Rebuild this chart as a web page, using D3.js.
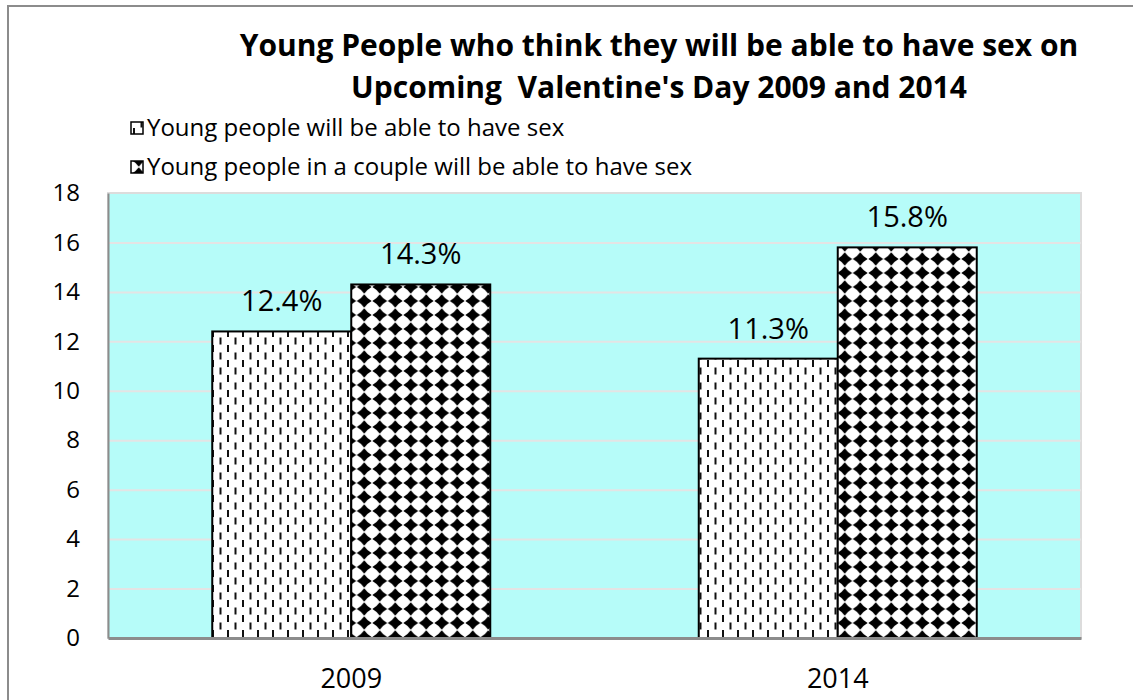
<!DOCTYPE html>
<html>
<head>
<meta charset="utf-8">
<script src="https://cdn.jsdelivr.net/npm/d3@7"></script>
<style>
  body { margin: 0; background: #fff; }
</style>
</head>
<body>
<div id="chart"></div>
<script>

var width = 1133;
var height = 700;

// data
var years = ['2009', '2014'];
var seriesNames = ['Young people will be able to have sex', 'Young people in a couple will be able to have sex'];
var seriesAll = [12.4, 11.3];
var seriesCouple = [14.3, 15.8];
var yTicks = [0, 2, 4, 6, 8, 10, 12, 14, 16, 18];
var titleLines = ['Young People who think they will be able to have sex on', 'Upcoming  Valentine\'s Day 2009 and 2014'];

var plotLeft = 108;
var plotRight = 1081;
var plotTop = 193;
var plotBottom = 638;
var font = '"Open Sans", Lato, sans-serif';

var svg = d3.select('#chart')
  .append('svg')
  .attr('width', width)
  .attr('height', height)
  .style('background-color', '#fff');

var defs = svg.append('defs');

// dashes pattern
var pDash = defs.append('pattern')
  .attr('id', 'dash')
  .attr('patternUnits', 'userSpaceOnUse')
  .attr('width', 15)
  .attr('height', 15);
pDash.append('rect').attr('width', 15).attr('height', 15).attr('fill', '#fff');
pDash.append('rect').attr('x', 2).attr('y', 0).attr('width', 2).attr('height', 7).attr('fill', '#111');
pDash.append('rect').attr('x', 9.5).attr('y', 7.5).attr('width', 2).attr('height', 7).attr('fill', '#111');

// diamond pattern: one diamond per cell, square grid, tips almost touching
var pw = 15.5, ph = 14, dx = 7.4, dy = 6.7, k = 0.38;
var pDia = defs.append('pattern')
  .attr('id', 'diamond')
  .attr('patternUnits', 'userSpaceOnUse')
  .attr('width', pw)
  .attr('height', ph);
pDia.append('rect').attr('width', pw).attr('height', ph).attr('fill', '#fff');
var cx = pw / 2, cy = ph / 2;
pDia.append('path')
  .attr('d', 'M' + (cx - dx) + ',' + cy +
    'Q' + (cx - dx * k) + ',' + (cy - dy * k) + ' ' + cx + ',' + (cy - dy) +
    'Q' + (cx + dx * k) + ',' + (cy - dy * k) + ' ' + (cx + dx) + ',' + cy +
    'Q' + (cx + dx * k) + ',' + (cy + dy * k) + ' ' + cx + ',' + (cy + dy) +
    'Q' + (cx - dx * k) + ',' + (cy + dy * k) + ' ' + (cx - dx) + ',' + cy + 'Z')
  .attr('fill', '#000');

// outer frame
svg.append('rect')
  .attr('x', 8).attr('y', 6)
  .attr('width', 1200).attr('height', 800)
  .attr('fill', 'none')
  .attr('stroke', '#8c8c8c')
  .attr('stroke-width', 2);

var x0 = d3.scaleBand()
  .domain(years)
  .range([plotLeft, plotRight]);

var x1 = d3.scaleBand()
  .domain([0, 1])
  .range([0, x0.bandwidth()])
  .paddingOuter(0.75)
  .paddingInner(0);

var y = d3.scaleLinear()
  .domain([0, 18])
  .range([plotBottom, plotTop]);

// plot background
svg.append('rect')
  .attr('x', plotLeft).attr('y', plotTop)
  .attr('width', plotRight - plotLeft).attr('height', plotBottom - plotTop)
  .attr('fill', '#b6fcf9')
  .attr('stroke', '#dcdcdc')
  .attr('stroke-width', 2);

// grid
svg.append('g')
  .attr('class', 'grid')
  .attr('transform', 'translate(' + plotLeft + ',0)')
  .call(d3.axisLeft(y).tickValues(yTicks.slice(1, -1)).tickSize(-(plotRight - plotLeft)).tickFormat(''))
  .call(function(g) { g.select('.domain').remove(); })
  .selectAll('line')
  .attr('stroke', '#e4e4e4')
  .attr('stroke-width', 2);

// bars
var seriesList = [seriesAll, seriesCouple];
var fills = ['url(#dash)', 'url(#diamond)'];

seriesList.forEach(function(vals, si) {
  svg.selectAll('.bar' + si)
    .data(vals)
    .enter()
    .append('rect')
    .attr('class', 'bar' + si)
    .attr('x', function(d, i) { return x0(years[i]) + x1(si); })
    .attr('y', function(d) { return y(d); })
    .attr('width', x1.bandwidth())
    .attr('height', function(d) { return y(0) - y(d); })
    .attr('fill', fills[si])
    .attr('stroke', '#000')
    .attr('stroke-width', 2);

  svg.selectAll('.lab' + si)
    .data(vals)
    .enter()
    .append('text')
    .attr('class', 'lab' + si)
    .attr('x', function(d, i) { return x0(years[i]) + x1(si) + x1.bandwidth() / 2; })
    .attr('y', function(d) { return y(d) - 20; })
    .attr('text-anchor', 'middle')
    .text(function(d) { return d.toFixed(1) + '%'; })
    .style('font-family', font)
    .style('font-size', '29px')
    .style('fill', '#000');
});

// axes
var yAxisG = svg.append('g')
  .attr('transform', 'translate(' + plotLeft + ',0)')
  .call(d3.axisLeft(y).tickValues(yTicks).tickSize(0).tickPadding(28));
yAxisG.select('.domain').attr('stroke', '#8c8c8c').attr('stroke-width', 2);
yAxisG.selectAll('text')
  .style('font-family', font)
  .style('font-size', '24px')
  .style('fill', '#000');

var xAxisG = svg.append('g')
  .attr('transform', 'translate(0,' + plotBottom + ')')
  .call(d3.axisBottom(x0).tickSize(0).tickPadding(26));
xAxisG.select('.domain').attr('stroke', '#8c8c8c').attr('stroke-width', 3);
xAxisG.selectAll('text')
  .attr('dy', '0.9em')
  .style('font-family', font)
  .style('font-size', '27px')
  .style('fill', '#000');

// title
svg.selectAll('.title')
  .data(titleLines)
  .enter()
  .append('text')
  .attr('class', 'title')
  .attr('x', 659)
  .attr('y', function(d, i) { return 56 + i * 42; })
  .attr('text-anchor', 'middle')
  .text(function(d) { return d; })
  .style('font-family', font)
  .style('font-size', '30px')
  .style('font-weight', '700')
  .style('white-space', 'pre')
  .style('fill', '#000');

// legend
var legend = svg.selectAll('.legend')
  .data(seriesNames)
  .enter()
  .append('g')
  .attr('class', 'legend')
  .attr('transform', function(d, i) { return 'translate(131,' + (128 + i * 39) + ')'; });

legend.append('rect')
  .attr('x', 0).attr('y', -6)
  .attr('width', 12).attr('height', 12)
  .attr('fill', function(d, i) { return fills[i]; })
  .attr('stroke', '#000')
  .attr('stroke-width', 1.5);

legend.append('text')
  .attr('x', 16)
  .attr('y', 0)
  .attr('dy', '0.35em')
  .text(function(d) { return d; })
  .style('font-family', font)
  .style('font-size', '24px')
  .style('fill', '#000');

</script>
</body>
</html>
